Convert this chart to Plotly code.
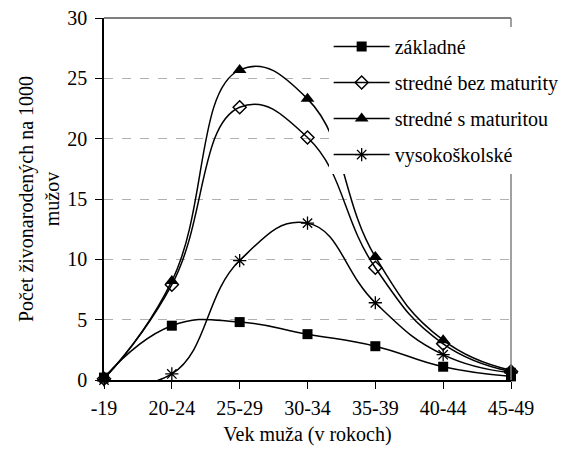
import plotly.graph_objects as go

categories = ["-19", "20-24", "25-29", "30-34", "35-39", "40-44", "45-49"]
zakladne = [0.2, 4.5, 4.8, 3.8, 2.8, 1.1, 0.3]
bez_maturity = [0.1, 7.9, 22.6, 20.1, 9.3, 3.0, 0.7]
s_maturitou = [0.1, 8.2, 25.7, 23.3, 10.2, 3.3, 0.8]
vysokoskolske = [0.0, 0.5, 9.9, 13.0, 6.4, 2.1, 0.6]
y_ticks = [0, 5, 10, 15, 20, 25, 30]

FONT = "Liberation Serif"
FS = 20

series = [
    ("základné", zakladne, dict(symbol="square", size=10, color="black")),
    ("stredné bez maturity", bez_maturity,
     dict(symbol="diamond-open", size=10, color="black", line=dict(width=1.5, color="black"))),
    ("stredné s maturitou", s_maturitou, dict(symbol="triangle-up", size=12, color="black")),
    ("vysokoškolské", vysokoskolske,
     dict(symbol="asterisk-open", size=11, color="black", line=dict(width=1.3, color="black"))),
]

fig = go.Figure()
for i, (name, vals, mk) in enumerate(series):
    fig.add_trace(go.Scatter(
        x=list(range(len(categories))), y=vals, name=name, mode="lines+markers",
        line=dict(color="black", width=1.5, shape="spline", smoothing=1.3),
        marker=mk, legendgroup=f"g{i}", cliponaxis=False,
    ))

fig.add_shape(type="line", xref="paper", yref="paper", x0=0, x1=1, y0=1, y1=1,
              line=dict(color="#555555", width=1.5))
fig.add_shape(type="line", xref="paper", yref="paper", x0=1, x1=1, y0=0, y1=1,
              line=dict(color="#808080", width=1.5))

fig.update_layout(
    width=575, height=457,
    margin=dict(l=96, r=72, t=10, b=85),
    paper_bgcolor="white", plot_bgcolor="white",
    font=dict(family=FONT, size=FS, color="black"),
    showlegend=True,
    legend=dict(x=0.552, y=0.975, xanchor="left", yanchor="top",
                bgcolor="white", borderwidth=0, traceorder="grouped",
                tracegroupgap=7, itemwidth=56,
                font=dict(family=FONT, size=FS, color="black")),
    xaxis=dict(
        tickmode="array", tickvals=list(range(len(categories))), ticktext=categories,
        range=[0, len(categories) - 1], showgrid=False, zeroline=False,
        showline=True, linecolor="black", linewidth=1.5,
        ticks="outside", ticklen=7, tickcolor="black", tickwidth=1,
        tickfont=dict(family=FONT, size=FS), ticklabelstandoff=2,
        ticklabeloverflow="allow", automargin=False,
        title=dict(text="Vek muža (v rokoch)", font=dict(family=FONT, size=FS), standoff=9),
    ),
    yaxis=dict(
        range=[0, 30], tickvals=y_ticks, showgrid=True, gridcolor="#b0b0b0",
        griddash="dash", gridwidth=1, zeroline=False,
        showline=True, linecolor="black", linewidth=1.5,
        ticks="outside", ticklen=7, tickcolor="black",
        tickfont=dict(family=FONT, size=FS), ticklabelstandoff=4,
        ticklabeloverflow="allow", automargin=False,
        title=dict(text="Počet živonarodených na 1000<br>mužov", font=dict(family=FONT, size=FS), standoff=2),
    ),
)

fig.write_html("out.html")
